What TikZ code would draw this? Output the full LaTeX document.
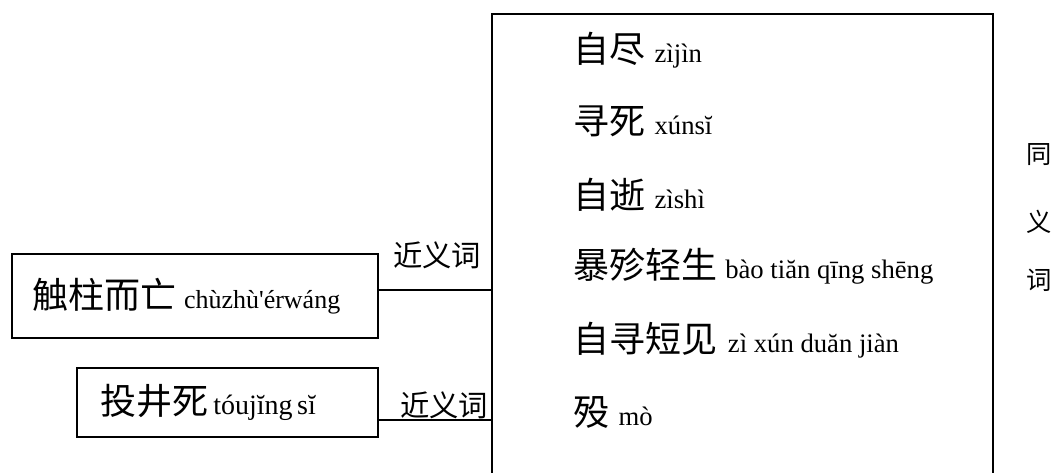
\documentclass[tikz,border=0pt]{standalone}
\usepackage{fontspec}
\setmainfont{Liberation Serif}
\newfontfamily\cjk{Noto Sans CJK SC}
\newcommand{\zh}[1]{{\cjk\fontsize{27}{29}\selectfont #1}}
\begin{document}
\begin{tikzpicture}[x=0.75pt,y=-0.75pt,
  box/.style={draw,line width=1.1pt,inner ysep=0pt,align=left},
  item/.style={anchor=west,inner sep=0pt,font=\fontsize{20}{22}\selectfont},
  lbl/.style={inner sep=0pt,font=\cjk\fontsize{22}{24}\selectfont},
  side/.style={inner sep=0pt,font=\cjk\fontsize{19}{21}\selectfont},
  conn/.style={line width=1.1pt}]
\useasboundingbox (0,0) rectangle (1059,473);
\clip (0,0) rectangle (1059,473);
\fill[white] (0,0) rectangle (1059,473);
% big box (bottom edge outside the picture)
\node[draw,line width=1.1pt,minimum width=376pt,minimum height=372pt,inner sep=0pt] (main) at (742.5,262) {};
% items
\node[item] (i1) at (573,50) {\zh{自尽}\hspace{7pt}zìjìn};
\node[item] (i2) at (573,121) {\zh{寻死}\hspace{7pt}xúnsĭ};
\node[item] (i3) at (573,195) {\zh{自逝}\hspace{7pt}zìshì};
\node[item] (i4) at (573,266) {\zh{暴殄轻生}\hspace{6pt}bào tiăn qīng shēng};
\node[item] (i5) at (573,340) {\zh{自寻短见}\hspace{8pt}zì xún duăn jiàn};
\node[item] (i6) at (573,412) {\zh{殁}\hspace{7pt}mò};
% left boxes
\node[box,text width=244.5pt,inner xsep=15pt,minimum height=63pt] (b1) at (195,296)
  {\zh{触柱而亡}\hspace{6pt}{\fontsize{19.5}{22}\selectfont chùzhù\textquotesingle érwáng}};
\node[box,text width=191.25pt,inner xsep=17.25pt,minimum height=51.75pt] (b2) at (227.5,402.5)
  {\zh{投井死}\hspace{4pt}{\fontsize{21}{23}\selectfont tóujĭng sĭ}};
% connectors
\coordinate (c1) at ([yshift=4.5pt]b1.east);
\coordinate (c2) at ([yshift=-13pt]b2.east);
\draw[conn] (c1) -- (c1 -| main.west);
\draw[conn] (c2) -- (c2 -| main.west);
\node[lbl] (l1) at (437,255) {近义词};
\node[lbl] (l2) at (444,405) {近义词};
% side label
\node[side] (s1) at (1039,155) {同};
\node[side] (s2) at (1039,222) {义};
\node[side] (s3) at (1039,280) {词};
\end{tikzpicture}
\end{document}
